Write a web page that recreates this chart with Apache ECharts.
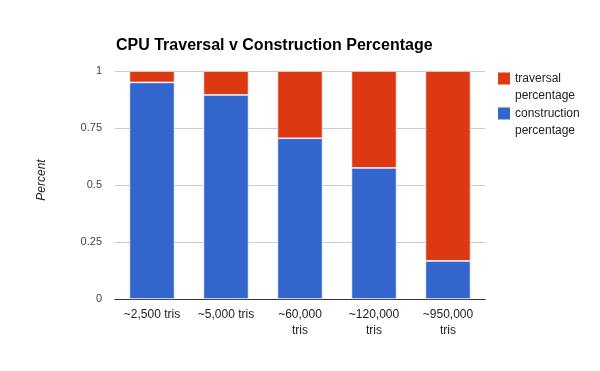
<!DOCTYPE html>
<html><head><meta charset="utf-8">
<script src="https://cdn.jsdelivr.net/npm/echarts@6/dist/echarts.min.js"></script>
<style>html,body{margin:0;padding:0;background:#fff}#c{width:600px;height:371px}</style>
</head><body><div id="c"></div>
<script>
const categories = ['~2,500 tris', '~5,000 tris', '~60,000\ntris', '~120,000\ntris', '~950,000\ntris'];
const construction = [0.95, 0.895, 0.705, 0.575, 0.167];
const traversal = [0.05, 0.105, 0.295, 0.425, 0.833];
const yTicks = [0, 0.25, 0.5, 0.75, 1];
const seriesNames = ['traversal percentage', 'construction percentage'];

const chart = echarts.init(document.getElementById('c'), null, {renderer: 'canvas'});
const font = 'Liberation Sans, Arial, sans-serif';
chart.setOption({
  animation: false,
  title: {
    text: 'CPU Traversal v Construction Percentage',
    left: 111, top: 33,
    textStyle: {fontFamily: font, fontSize: 16, fontWeight: 'bold', color: '#000'}
  },
  legend: {
    orient: 'vertical', left: 498, top: 70, padding: 0,
    itemWidth: 12, itemHeight: 29, itemGap: 1,
    icon: 'path://M0,0L12,0L12,12L0,12Z M0,29L0.01,29',
    itemStyle: {borderWidth: 0},
    data: [seriesNames[0], seriesNames[1]],
    formatter: n => n.replace(' ', '\n'),
    textStyle: {fontFamily: font, fontSize: 12, color: '#222', lineHeight: 17}
  },
  grid: {left: 115, right: 115, top: 71, bottom: 72},
  xAxis: {
    type: 'category', data: categories,
    axisLine: {lineStyle: {color: '#333', width: 1}},
    axisTick: {show: false},
    axisLabel: {fontFamily: font, fontSize: 12, color: '#222', lineHeight: 16, margin: 8, interval: 0}
  },
  yAxis: {
    type: 'value', min: 0, max: 1, interval: 0.25,
    name: 'Percent', nameLocation: 'middle', nameGap: 67,
    nameTextStyle: {fontFamily: font, fontSize: 12, fontStyle: 'italic', color: '#222', padding: [0, 0, 0, 10]},
    axisLine: {show: false}, axisTick: {show: false},
    splitLine: {lineStyle: {color: '#ccc'}},
    axisLabel: {fontFamily: font, fontSize: 11, color: '#444', margin: 13,
      formatter: v => (yTicks.includes(v) ? String(v) : '')}
  },
  series: [
    {name: seriesNames[1], type: 'bar', stack: 's', data: construction, barWidth: '61%',
     itemStyle: {color: '#3366cc', borderColor: '#fff', borderWidth: 0.7}},
    {name: seriesNames[0], type: 'bar', stack: 's', data: traversal,
     itemStyle: {color: '#dc3912', borderColor: '#fff', borderWidth: 0.7}}
  ]
});
</script></body></html>
